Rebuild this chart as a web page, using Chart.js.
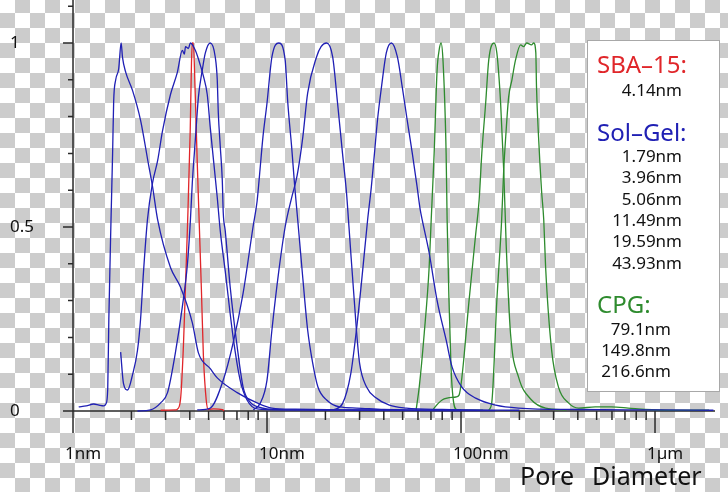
<!DOCTYPE html>
<html><head><meta charset="utf-8">
<script src="https://cdn.jsdelivr.net/npm/chart.js@4"></script>
<style>
html,body{margin:0;padding:0;}
body{width:728px;height:492px;overflow:hidden;background:repeating-conic-gradient(#fff 0 25%, #cccccc 0 50%) 0 13px/30px 30px;}
canvas{display:block}
</style></head><body>
<canvas id="c" width="728" height="492"></canvas>
<script>
// ---- data: [pore diameter in nm, normalised distribution] ----
const sba15 = [[2.83,0.002],[3.37,0.003],[3.45,0.005],[3.58,0.03],[3.71,0.18],[3.80,0.34],[3.89,0.50],[4.02,0.764],[4.08,0.946],[4.12,1.0],[4.17,1.0],[4.27,0.853],[4.37,0.674],[4.48,0.50],[4.59,0.33],[4.70,0.15],[4.86,0.03],[4.98,0.004],[5.3,0.006],[5.9,0.004],[6.0,0.0]];
const solGel179 = [[1.07,0.011],[1.17,0.014],[1.28,0.019],[1.36,0.016],[1.44,0.014],[1.48,0.02],[1.51,0.06],[1.53,0.25],[1.57,0.52],[1.60,0.70],[1.62,0.84],[1.66,0.90],[1.72,0.93],[1.77,1.0],[1.80,0.96],[1.87,0.92],[2.03,0.87],[2.23,0.79],[2.45,0.67],[2.57,0.61],[2.73,0.52],[3.18,0.39],[3.58,0.337],[4.12,0.24],[4.43,0.158],[5.10,0.115],[5.54,0.09],[7.02,0.05],[8.89,0.022],[10.6,0.008],[14,0.005],[25,0.003],[60,0.002],[150,0.001]];
const solGel396 = [[1.76,0.16],[1.82,0.075],[1.91,0.057],[2.03,0.10],[2.15,0.165],[2.23,0.25],[2.31,0.38],[2.42,0.52],[2.57,0.62],[2.73,0.68],[2.89,0.76],[3.18,0.86],[3.45,0.92],[3.66,0.98],[3.75,0.97],[3.80,0.99],[3.93,0.985],[4.03,1.0],[4.27,0.98],[4.53,0.94],[4.70,0.91],[4.92,0.86],[5.10,0.77],[5.28,0.69],[5.54,0.58],[5.74,0.49],[6.09,0.38],[6.69,0.20],[7.27,0.084],[7.89,0.03],[8.89,0.006],[12,0.003],[30,0.002],[100,0.001]];
const solGel506 = [[2.15,0.0],[2.51,0.003],[2.83,0.022],[3.07,0.05],[3.37,0.158],[3.66,0.283],[3.89,0.40],[4.03,0.52],[4.12,0.62],[4.27,0.736],[4.43,0.853],[4.64,0.927],[4.81,0.973],[5.10,1.0],[5.41,0.962],[5.54,0.90],[5.61,0.81],[5.74,0.72],[5.88,0.628],[5.95,0.538],[6.09,0.49],[6.46,0.337],[7.02,0.174],[7.53,0.065],[8.18,0.024],[8.99,0.011],[10,0.006],[15,0.003],[40,0.002]];
const solGel1149 = [[4.37,0.003],[5.10,0.008],[5.95,0.084],[6.69,0.185],[7.53,0.32],[8.47,0.50],[8.89,0.57],[9.20,0.655],[9.53,0.745],[10.0,0.837],[10.6,0.962],[11.5,1.0],[12.4,0.954],[12.8,0.837],[13.4,0.717],[13.9,0.609],[14.4,0.519],[15.3,0.36],[16.2,0.22],[17.2,0.13],[18.3,0.065],[20.3,0.03],[23.7,0.011],[28.9,0.008],[40,0.004],[100,0.002]];
const solGel1959 = [[8.5,0.003],[9.2,0.02],[10.0,0.084],[10.6,0.22],[11.5,0.38],[12.4,0.50],[13.4,0.58],[14.3,0.64],[15.3,0.745],[16.2,0.864],[18.0,0.962],[19.0,0.99],[20.3,1.0],[21.8,0.962],[23.1,0.837],[24.5,0.70],[25.7,0.592],[26.3,0.519],[28.9,0.22],[30.0,0.13],[32.6,0.065],[36.6,0.035],[42.7,0.016],[52.2,0.008],[80,0.004],[200,0.002]];
const solGel4393 = [[22.0,0.003],[24.5,0.02],[27.0,0.10],[28.9,0.22],[30.7,0.35],[33.0,0.519],[34.5,0.609],[35.8,0.70],[37.1,0.79],[38.9,0.88],[41.2,0.973],[43.8,1.0],[47.0,0.962],[49.8,0.88],[52.8,0.79],[56.1,0.70],[59.4,0.609],[61.5,0.55],[63.1,0.519],[68.5,0.43],[75.3,0.30],[83.8,0.193],[89.9,0.12],[101,0.065],[119,0.035],[151,0.016],[198,0.008],[400,0.004],[1000,0.003],[2000,0.002]];
const cpg791 = [[58.7,0.003],[60.9,0.065],[64.6,0.21],[68.5,0.39],[70.2,0.52],[72.7,0.70],[75.3,0.927],[77.1,0.98],[78.9,1.0],[80.8,0.95],[83.8,0.70],[84.8,0.52],[86.7,0.30],[88.8,0.12],[91.0,0.035],[95.3,0.003],[130,0.002]];
const cpg1498 = [[71.0,0.0],[72.7,0.008],[79.9,0.03],[84.8,0.035],[94.2,0.038],[97.7,0.043],[101,0.09],[110,0.30],[119,0.48],[124,0.573],[128,0.70],[134,0.837],[139,0.954],[148,1.0],[153,0.973],[160,0.837],[166,0.655],[171,0.45],[180,0.21],[198,0.092],[231,0.03],[273,0.008],[350,0.003]];
const cpg2166 = [[139,0.003],[144,0.022],[153,0.30],[162,0.52],[166,0.655],[170,0.745],[176,0.853],[183,0.90],[191,0.954],[203,0.995],[210,0.99],[218,1.0],[231,0.995],[237,1.0],[243,0.973],[245,0.88],[251,0.745],[260,0.60],[267,0.519],[273,0.39],[293,0.166],[318,0.065],[358,0.022],[403,0.008],[492,0.011],[595,0.011],[727,0.008],[889,0.004],[1300,0.002],[1900,0.002]];

// ---- ticks & labels ----
const yTickValues = [0,0.1,0.2,0.3,0.4,0.5,0.6,0.7,0.8,0.9,1,1.1];
const yLabelValues = [0,0.5,1];
const yLabels = ['0','0.5','1'];
const xLabelValues = [1,10,100,1000];
const xLabels = ['1nm','10nm','100nm','1\u00b5m'];
const xMinorTicks = [2,3,4,5,6,7,8,9,20,30,40,50,60,70,80,90,200,300,400,500,600,700,800,900];
const axisTitleWords = ['Pore','Diameter'];

// ---- legend text ----
const sbaTitle = 'SBA\u201315:';
const sbaSizes = ['4.14nm'];
const solGelTitle = 'Sol\u2013Gel:';
const solGelSizes = ['1.79nm','3.96nm','5.06nm','11.49nm','19.59nm','43.93nm'];
const cpgTitle = 'CPG:';
const cpgSizes = ['79.1nm','149.8nm','216.6nm'];

const RED = '#e0262a', BLUE = '#2020b4', GREEN = '#2e8b2e';
const FONT = '"Noto Sans", "Open Sans", sans-serif';

function ds(arr, color){
  return {data: arr.map(([x,y])=>({x,y})), borderColor: color, borderWidth: 1.3,
    showLine: true, pointRadius: 0, fill: false, cubicInterpolationMode: 'monotone'};
}

const frame = {
  id: 'frame',
  beforeDatasetsDraw(chart){
    const {ctx, scales:{x, y}, chartArea:a} = chart;
    const x0 = x.getPixelForValue(1);
    const y0 = y.getPixelForValue(0);
    ctx.save();
    ctx.strokeStyle = '#2a2a2a';
    ctx.lineWidth = 1.5;
    ctx.beginPath();
    ctx.moveTo(x0, a.top); ctx.lineTo(x0, a.bottom);
    ctx.moveTo(a.left, y0); ctx.lineTo(a.right, y0);
    yTickValues.forEach(v=>{
      const py = y.getPixelForValue(v);
      const len = yLabelValues.includes(v) ? 10 : 5;
      ctx.moveTo(x0-len, py); ctx.lineTo(x0, py);
    });
    xMinorTicks.forEach(v=>{
      const px = x.getPixelForValue(v);
      ctx.moveTo(px, y0); ctx.lineTo(px, y0+9);
    });
    xLabelValues.forEach(v=>{
      const px = x.getPixelForValue(v);
      ctx.moveTo(px, y0); ctx.lineTo(px, y0+22);
    });
    ctx.stroke();

    ctx.fillStyle = '#111';
    ctx.font = '17px ' + FONT;
    ctx.textAlign = 'left';
    ctx.textBaseline = 'alphabetic';
    yLabelValues.forEach((v,i)=>{
      ctx.fillText(yLabels[i], 10, y.getPixelForValue(v)+5);
    });
    xLabelValues.forEach((v,i)=>{
      ctx.fillText(xLabels[i], x.getPixelForValue(v)-8, y0+48);
    });
    ctx.font = '25px ' + FONT;
    ctx.fillText(axisTitleWords[0], 520, 485);
    ctx.fillText(axisTitleWords[1], 592, 485);
    ctx.restore();
  },
  afterDraw(chart){
    const ctx = chart.ctx;
    ctx.save();
    ctx.fillStyle = '#ffffff';
    ctx.fillRect(587, 40, 133, 352);
    ctx.strokeStyle = '#a8a8a8';
    ctx.lineWidth = 1;
    ctx.strokeRect(587.5, 40.5, 132, 351);
    ctx.textBaseline = 'alphabetic';
    ctx.font = '24px ' + FONT;
    ctx.textAlign = 'left';
    ctx.fillStyle = RED;   ctx.fillText(sbaTitle, 597, 73);
    ctx.fillStyle = BLUE;  ctx.fillText(solGelTitle, 597, 141);
    ctx.fillStyle = GREEN; ctx.fillText(cpgTitle, 597, 313);
    ctx.font = '17px ' + FONT;
    ctx.fillStyle = '#111';
    ctx.textAlign = 'right';
    sbaSizes.forEach((t,i)=>ctx.fillText(t, 682, 96 + i*21.3));
    solGelSizes.forEach((t,i)=>ctx.fillText(t, 682, 162 + i*21.3));
    cpgSizes.forEach((t,i)=>ctx.fillText(t, 671, 335 + i*21));
    ctx.restore();
  }
};

new Chart(document.getElementById('c'), {
  type: 'scatter',
  data: { datasets: [
    ds(solGel179, BLUE), ds(solGel396, BLUE), ds(solGel506, BLUE),
    ds(solGel1149, BLUE), ds(solGel1959, BLUE), ds(solGel4393, BLUE),
    ds(cpg791, GREEN), ds(cpg1498, GREEN), ds(cpg2166, GREEN),
    ds(sba15, RED)
  ]},
  options: {
    responsive: false, animation: false, events: [],
    layout: { padding: { left: 63, right: 13, top: 0, bottom: 59 } },
    plugins: { legend: { display: false }, tooltip: { enabled: false } },
    scales: {
      x: { type: 'logarithmic', min: 0.888, max: 2038, display: false },
      y: { type: 'linear', min: -0.0598, max: 1.1168, display: false }
    }
  },
  plugins: [frame]
});
</script>
</body></html>
